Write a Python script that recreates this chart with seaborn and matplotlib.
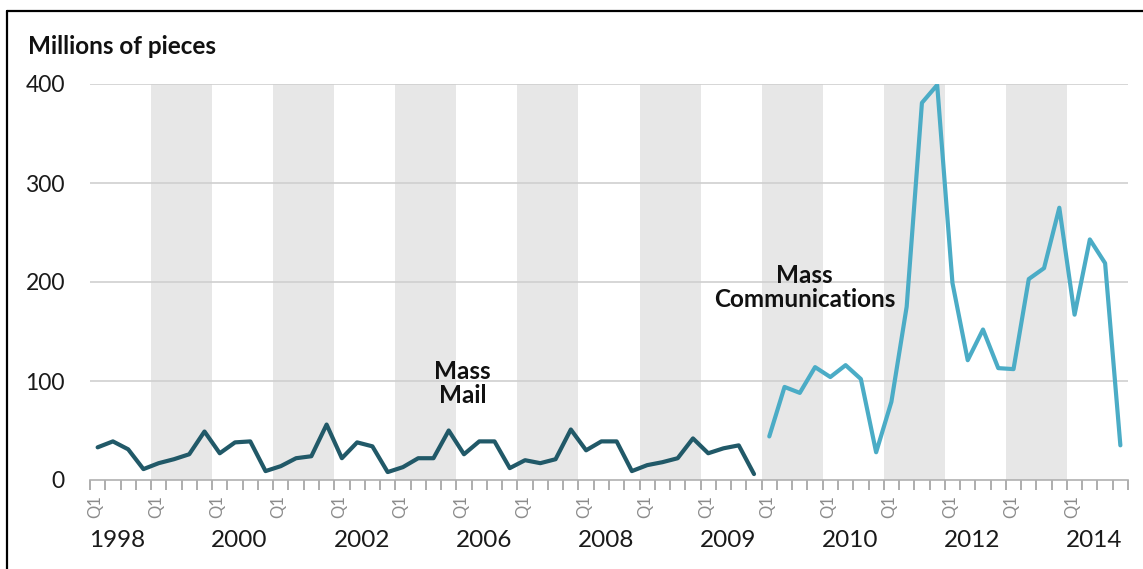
import matplotlib
matplotlib.use("Agg")
import matplotlib.pyplot as plt
from matplotlib.lines import Line2D
import numpy as np
import pandas as pd
import seaborn as sns

# ---- data ----
years = list(range(1998, 2015))
quarters = ["Q1", "Q2", "Q3", "Q4"]
year_labels = ["1998", "2000", "2002", "2006", "2008", "2009", "2010", "2012", "2014"]

mass_mail = [33, 39, 31, 11, 17, 21, 26, 49, 27, 38, 39, 9,
             14, 22, 24, 56, 22, 38, 34, 8, 13, 22, 22, 50,
             26, 39, 39, 12, 20, 17, 21, 51, 30, 39, 39, 9,
             15, 18, 22, 42, 27, 32, 35, 6]
mass_comm = [44, 94, 88, 114, 104, 116, 102, 28, 79, 175, 381, 399,
             199, 121, 152, 113, 112, 203, 214, 275, 167, 243, 219, 35]
series_names = ["Mass Mail", "Mass Communications"]
colors = ["#215968", "#4BACC6"]

# ---- table ----
n_q = len(years) * len(quarters)
idx = np.arange(n_q)
df = pd.DataFrame({
    "q": np.concatenate([idx[:len(mass_mail)], idx[len(mass_mail):len(mass_mail) + len(mass_comm)]]),
    "value": mass_mail + mass_comm,
    "series": [series_names[0]] * len(mass_mail) + [series_names[1]] * len(mass_comm),
})

sns.set_theme(style="white")
plt.rcParams["font.family"] = ["Lato", "DejaVu Sans"]

fig = plt.figure(figsize=(11.43, 5.69), dpi=100)
ax = fig.add_axes([90 / 1143, 89 / 569, 1038 / 1143, 396 / 569])

# alternating year bands
for g in range(len(years)):
    if g % 2 == 1:
        ax.axvspan(g * 4 - 0.5, g * 4 + 3.5, color="#e7e7e7", lw=0, zorder=0)

# gridlines
for v in [100, 200, 300, 400]:
    ax.axhline(v, color="#d0d0d0", lw=1.2, zorder=1)

sns.lineplot(data=df, x="q", y="value", hue="series", palette=colors,
             hue_order=series_names, linewidth=3.0, legend=False, ax=ax, zorder=3)

ax.set_xlim(-0.5, n_q - 0.5)
ax.set_ylim(0, 400)
ax.set_xlabel("")
ax.set_ylabel("")
for s in ["top", "right", "left"]:
    ax.spines[s].set_visible(False)
ax.spines["bottom"].set_color("#b0b0b0")
ax.spines["bottom"].set_linewidth(1.2)

ax.set_yticks([0, 100, 200, 300, 400])
ax.tick_params(axis="y", length=0, pad=18, labelsize=16.5, labelcolor="#1a1a1a")
ax.set_xticks(np.arange(-0.5, n_q, 1.0))
ax.set_xticklabels([])
ax.tick_params(axis="x", length=7, width=1.2, color="#a0a0a0", direction="out", bottom=True)

tr = ax.get_xaxis_transform()
for g in range(len(years)):
    ax.text(g * 4 - 0.15, -0.068, quarters[0], rotation=90, ha="center", va="center",
            fontsize=12, color="#8c8c8c", transform=tr)
for k, lab in enumerate(year_labels):
    g = k * 2
    ax.text(g * 4 + 1.3, -0.152, lab, ha="center", va="center", fontsize=17.5,
            color="#1a1a1a", transform=tr)

ax.text(23.9, 97, "Mass\nMail", ha="center", va="center", fontsize=17.5,
        fontweight="bold", color="#111111", linespacing=1.05, zorder=5)
ax.text(46.3, 194, "Mass\nCommunications", ha="center", va="center", fontsize=17.5,
        fontweight="bold", color="#111111", linespacing=1.05, zorder=5)

fig.text(28 / 1143, 1 - 46 / 569, "Millions of pieces", ha="left", va="center",
         fontsize=17.5, fontweight="bold", color="#111111")

# frame lines (top and left)
fig.add_artist(Line2D([7 / 1143, 1], [1 - 10.5 / 569, 1 - 10.5 / 569],
                      transform=fig.transFigure, color="black", lw=1.6))
fig.add_artist(Line2D([7 / 1143, 7 / 1143], [0, 1 - 10.5 / 569],
                      transform=fig.transFigure, color="black", lw=1.6))

fig.savefig("out.png", dpi=100)
